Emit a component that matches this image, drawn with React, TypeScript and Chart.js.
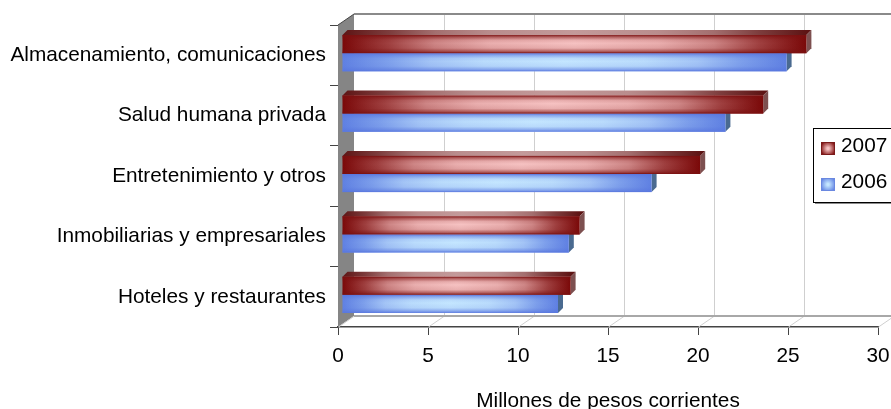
import React, { useEffect, useRef } from "react";
import { Chart, registerables } from "chart.js";

Chart.register(...registerables);

const categories = [
  "Almacenamiento, comunicaciones",
  "Salud humana privada",
  "Entretenimiento y otros",
  "Inmobiliarias y empresariales",
  "Hoteles y restaurantes",
];
const series2007 = [25.8, 23.4, 19.9, 13.2, 12.7];
const series2006 = [24.7, 21.3, 17.2, 12.6, 12.0];
const xTicks = [0, 5, 10, 15, 20, 25, 30];
const xTitle = "Millones de pesos corrientes";
const FONT = "'Liberation Sans', Arial, sans-serif";
const FS = 20.8;

const WALL_DX = 16;
const WALL_DY = 11;
const BAR_DX = 4;
const BAR_DY = -2;
const DEPTH = 5;

const palettes: any = {
  "2007": { edge: "#7a0808", mid: "#f6c2c2", shadeEdge: "122,16,16", topEdge: "#5e1414", topMid: "#c39a9a", side: "#7d5050" },
  "2006": { edge: "#5f80e2", mid: "#c4e6ff", shadeEdge: "88,118,222", topEdge: "#48659f", topMid: "#8aa4d0", side: "#4a6a90" },
};

function mix(a: string, b: string, t: number) {
  const c = (h: string, i: number) => parseInt(h.slice(1 + 2 * i, 3 + 2 * i), 16);
  const v = [0, 1, 2].map((i) => Math.round(c(a, i) + (c(b, i) - c(a, i)) * t));
  return `rgb(${v[0]},${v[1]},${v[2]})`;
}

function hGradient(ctx: CanvasRenderingContext2D, x0: number, x1: number, edge: string, mid: string) {
  const g = ctx.createLinearGradient(x0, 0, x1, 0);
  const stops: [number, number][] = [[0, 0], [0.1, 0.3], [0.2, 0.68], [0.32, 0.9], [0.5, 1]];
  stops.forEach(([p, t]) => {
    g.addColorStop(p, mix(edge, mid, t));
    g.addColorStop(1 - p, mix(edge, mid, t));
  });
  return g;
}

const scene3d = {
  id: "scene3d",
  beforeDatasetsDraw(chart: any) {
    const { ctx, chartArea: a, scales } = chart;
    const x = scales.x;
    ctx.save();
    // left wall
    ctx.fillStyle = "#858585";
    ctx.beginPath();
    ctx.moveTo(a.left, a.top);
    ctx.lineTo(a.left + WALL_DX, a.top - WALL_DY);
    ctx.lineTo(a.left + WALL_DX, a.bottom - WALL_DY);
    ctx.lineTo(a.left, a.bottom);
    ctx.closePath();
    ctx.fill();
    // back wall and floor grid lines
    ctx.strokeStyle = "#cfcfcf";
    ctx.lineWidth = 1;
    xTicks.forEach((t) => {
      const px = Math.round(x.getPixelForValue(t));
      ctx.beginPath();
      ctx.moveTo(px + 0.5, a.bottom);
      ctx.lineTo(px + WALL_DX + 0.5, a.bottom - WALL_DY);
      if (t > 0) ctx.lineTo(px + WALL_DX + 0.5, a.top - WALL_DY);
      ctx.stroke();
    });
    // back wall top and floor back edge
    ctx.strokeStyle = "#8a8a8a";
    ctx.lineWidth = 2;
    ctx.beginPath();
    ctx.moveTo(a.left + WALL_DX, a.top - WALL_DY);
    ctx.lineTo(a.right + WALL_DX, a.top - WALL_DY);
    ctx.stroke();
    ctx.strokeStyle = "#a8a8a8";
    ctx.beginPath();
    ctx.moveTo(a.left + WALL_DX, a.bottom - WALL_DY);
    ctx.lineTo(a.right + WALL_DX, a.bottom - WALL_DY);
    ctx.stroke();
    // axis corner edge
    ctx.strokeStyle = "#444";
    ctx.lineWidth = 1;
    ctx.beginPath();
    ctx.moveTo(a.left, a.top);
    ctx.lineTo(a.left + WALL_DX, a.top - WALL_DY);
    ctx.stroke();
    ctx.restore();

    // bars: shifted into the depth of the plot
    ctx.save();
    ctx.translate(BAR_DX, BAR_DY);
    [1, 0].forEach((di) => {
      const p = palettes[chart.data.datasets[di].label];
      chart.getDatasetMeta(di).data.forEach((el: any) => {
        const { x: x1, y, base, height } = el.getProps(["x", "y", "base", "height"], true);
        const top = y - height / 2;
        ctx.fillStyle = hGradient(ctx, base, x1, p.topEdge, p.topMid);
        ctx.beginPath();
        ctx.moveTo(base, top);
        ctx.lineTo(base + DEPTH, top - DEPTH);
        ctx.lineTo(x1 + DEPTH, top - DEPTH);
        ctx.lineTo(x1, top);
        ctx.closePath();
        ctx.fill();
        ctx.fillStyle = p.side;
        ctx.beginPath();
        ctx.moveTo(x1, top);
        ctx.lineTo(x1 + DEPTH, top - DEPTH);
        ctx.lineTo(x1 + DEPTH, top + height - DEPTH);
        ctx.lineTo(x1, top + height);
        ctx.closePath();
        ctx.fill();
      });
    });
  },
  afterDatasetsDraw(chart: any) {
    const { ctx } = chart;
    [1, 0].forEach((di) => {
      const p = palettes[chart.data.datasets[di].label];
      chart.getDatasetMeta(di).data.forEach((el: any) => {
        const { x: x1, y, base, height } = el.getProps(["x", "y", "base", "height"], true);
        const top = y - height / 2;
        const g = ctx.createLinearGradient(0, top, 0, top + height);
        g.addColorStop(0, `rgba(${p.shadeEdge},1)`);
        g.addColorStop(0.1, `rgba(${p.shadeEdge},0.55)`);
        g.addColorStop(0.28, `rgba(${p.shadeEdge},0.1)`);
        g.addColorStop(0.45, `rgba(${p.shadeEdge},0)`);
        g.addColorStop(0.72, `rgba(${p.shadeEdge},0.1)`);
        g.addColorStop(0.9, `rgba(${p.shadeEdge},0.55)`);
        g.addColorStop(1, `rgba(${p.shadeEdge},1)`);
        ctx.fillStyle = g;
        ctx.fillRect(base, top, x1 - base, height);
      });
    });
    ctx.restore();
  },
};

const legendBox = {
  id: "legendBox",
  afterDraw(chart: any) {
    const { ctx } = chart;
    ctx.save();
    ctx.fillStyle = "#8a8a8a";
    ctx.fillRect(815, 202, 76, 2);
    ctx.fillStyle = "#fff";
    ctx.fillRect(813.5, 128.5, 78, 74);
    ctx.strokeStyle = "#000";
    ctx.lineWidth = 1;
    ctx.strokeRect(813.5, 128.5, 78, 74);
    ctx.font = `${FS}px ${FONT}`;
    ctx.textBaseline = "middle";
    chart.data.datasets.forEach((ds: any, i: number) => {
      const p = palettes[ds.label];
      const sy = i === 0 ? 142 : 178;
      const g = ctx.createRadialGradient(828, sy + 6.5, 1, 828, sy + 6.5, 8);
      g.addColorStop(0, p.mid);
      g.addColorStop(1, p.edge);
      ctx.fillStyle = g;
      ctx.fillRect(821, sy, 14, 13);
      ctx.strokeStyle = i === 0 ? "#7a1a1a" : "#6a88e0";
      ctx.strokeRect(821.5, sy + 0.5, 13, 12);
      ctx.fillStyle = "#000";
      ctx.fillText(ds.label, 841, sy + 4);
    });
    ctx.restore();
  },
};

export default function App() {
  const ref = useRef<HTMLCanvasElement>(null);
  useEffect(() => {
    const barFill = (label: string) => (c: any) => {
      const p = palettes[label];
      const sx = c.chart.scales?.x;
      if (!sx || !c.parsed) return p.edge;
      const x0 = sx.getPixelForValue(0);
      const x1 = sx.getPixelForValue(c.parsed.x);
      if (!Number.isFinite(x0) || !Number.isFinite(x1)) return p.edge;
      return hGradient(c.chart.ctx, x0, x1, p.edge, p.mid);
    };
    const chart = new Chart(ref.current!, {
      type: "bar",
      data: {
        labels: categories,
        datasets: [
          { label: "2007", data: series2007, backgroundColor: barFill("2007"), borderWidth: 0 },
          { label: "2006", data: series2006, backgroundColor: barFill("2006"), borderWidth: 0 },
        ],
      },
      options: {
        indexAxis: "y",
        responsive: false,
        animation: false,
        devicePixelRatio: 1,
        layout: { padding: { top: 25, right: 13, left: 0, bottom: 0 } },
        datasets: { bar: { categoryPercentage: 0.6, barPercentage: 1 } },
        plugins: { legend: { display: false }, tooltip: { enabled: false } },
        scales: {
          x: {
            min: 0,
            max: 30,
            afterFit: (s: any) => { s.height = 82; s.paddingLeft = 0; s.paddingRight = 0; },
            afterBuildTicks: (s: any) => { s.ticks = xTicks.map((value) => ({ value })); },
            grid: { drawOnChartArea: false, color: "#444", tickLength: 8 },
            border: { color: "#444", width: 1.5 },
            ticks: { color: "#000", font: { family: FONT, size: FS }, padding: 9, maxRotation: 0 },
            title: { display: true, text: xTitle, color: "#000", font: { family: FONT, size: FS, lineHeight: 1 }, padding: { top: 0, bottom: -3 } },
          },
          y: {
            afterFit: (s: any) => { s.width = 338; s.paddingTop = 0; s.paddingBottom = 0; },
            grid: { drawOnChartArea: false, color: "#444", tickLength: 8 },
            border: { color: "#444", width: 1 },
            ticks: { color: "#000", font: { family: FONT, size: FS }, padding: 4, autoSkip: false },
          },
        },
      },
      plugins: [scene3d, legendBox],
    } as any);
    return () => chart.destroy();
  }, []);
  return (
    <div style={{ position: "fixed", left: 0, top: 0, width: 891, height: 409, background: "#fff", overflow: "hidden" }}>
      <canvas ref={ref} width={891} height={409} style={{ display: "block" }} />
    </div>
  );
}
